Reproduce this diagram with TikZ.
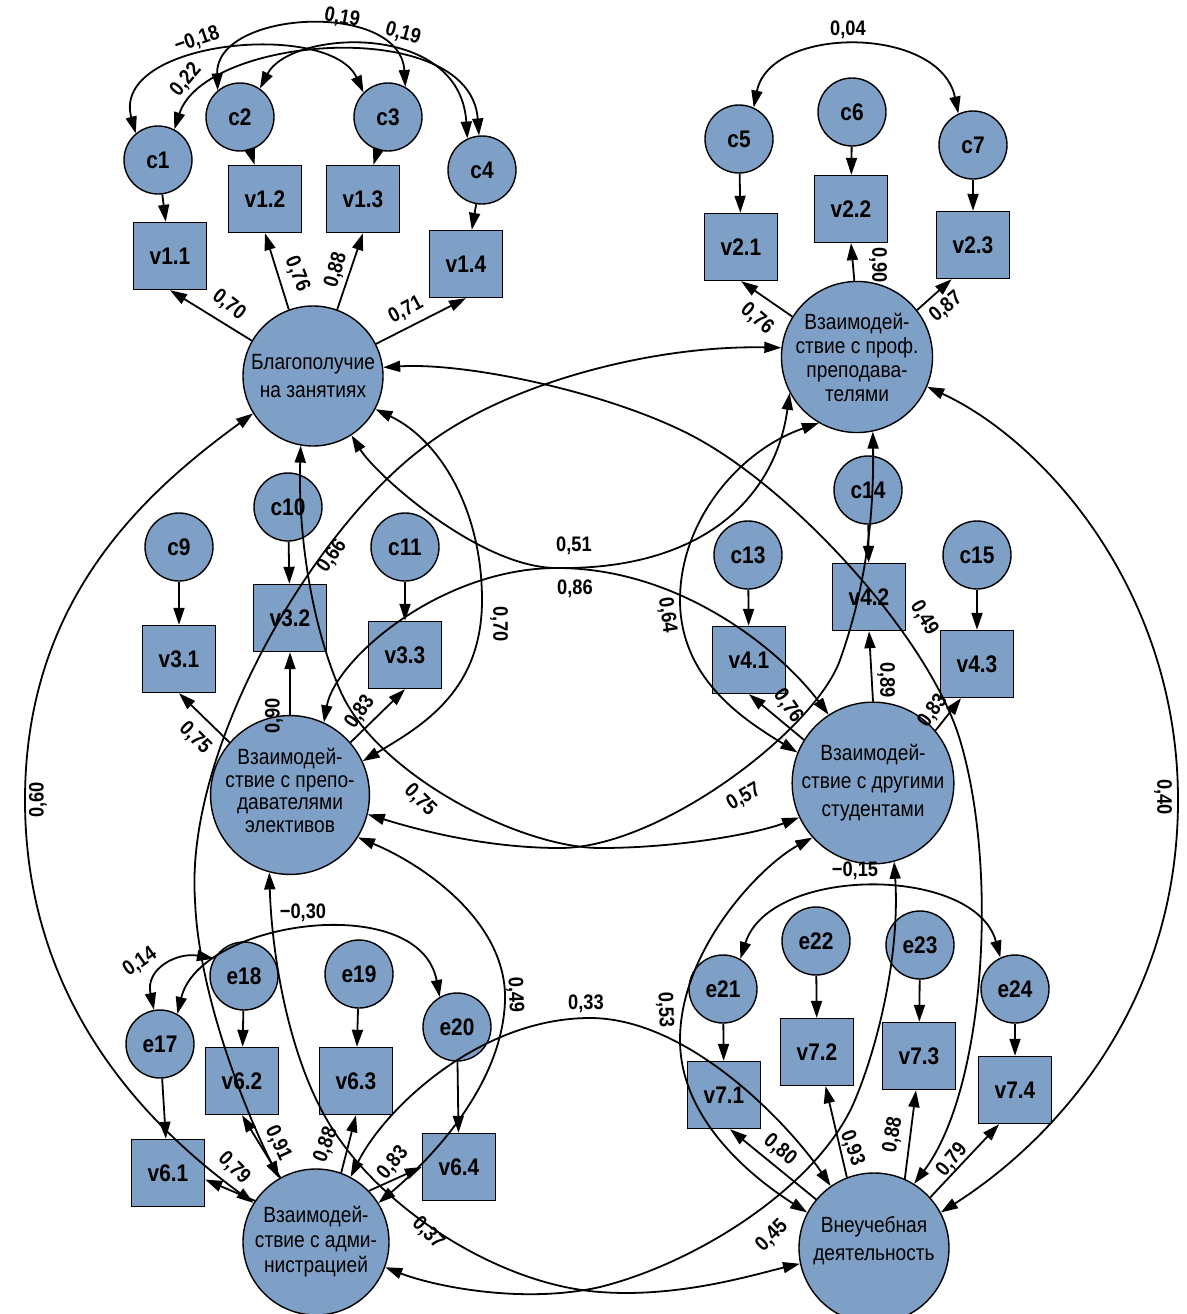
\documentclass[tikz,border=0pt]{standalone}
\usepackage{fontspec}
\setmainfont{Liberation Sans}
\newfontfamily\condsans[FakeStretch=0.87]{Liberation Sans}
\newcommand\latfont{\condsans\fontsize{22}{28}\selectfont}
\newcommand\obsfont{\condsans\bfseries\fontsize{24}{28}\selectfont}
\newcommand\valfont{\condsans\bfseries\fontsize{21}{25}\selectfont}
\usetikzlibrary{arrows.meta}
\definecolor{nodefill}{RGB}{127,160,198}
\begin{document}
\begin{tikzpicture}[x=1pt,y=-1pt,
  latent/.style={circle,draw=black,line width=1.4pt,fill=nodefill,inner sep=0pt,align=center,font=\latfont},
  errc/.style={circle,draw=black,line width=1.4pt,fill=nodefill,minimum size=68pt,inner sep=0pt,font=\obsfont},
  obs/.style={rectangle,draw=black,line width=1.4pt,fill=nodefill,minimum width=73pt,minimum height=67pt,inner sep=0pt,font=\obsfont},
  arr/.style={line width=1.8pt,-{Triangle[length=17pt,width=11pt]}},
  cov/.style={line width=1.8pt,{Triangle[length=17pt,width=11pt]}-{Triangle[length=17pt,width=11pt]}},
  val/.style={font=\valfont,inner sep=1pt}]
\useasboundingbox (0,0) rectangle (1186,1314);
\clip (0,0) rectangle (1186,1314);

% ---------- F1 group
\node[errc] (c1) at (158,160) {c1};
\node[errc] (c2) at (240,117) {c2};
\node[errc] (c3) at (388,117) {c3};
\node[errc] (c4) at (482,170) {c4};
\node[obs] (v11) at (170,256) {v1.1};
\node[obs] (v12) at (265,199) {v1.2};
\node[obs] (v13) at (363,199) {v1.3};
\node[obs] (v14) at (466,264) {v1.4};
\node[latent,minimum size=140pt] (F1) at (313,376) {Благополучие\\на занятиях};

% ---------- F2 group
\node[errc] (c5) at (739,139) {c5};
\node[errc] (c6) at (852,112) {c6};
\node[errc] (c7) at (973,145) {c7};
\node[obs] (v21) at (741,247) {v2.1};
\node[obs] (v22) at (851,209) {v2.2};
\node[obs] (v23) at (973,245) {v2.3};
\node[latent,minimum size=144pt,font={\condsans\fontsize{22}{24}\selectfont}] (F2) at (857,357) {Взаимодей-\\ствие с проф.\\преподава-\\телями};

% ---------- F3 group
\node[errc] (c9) at (179,547) {c9};
\node[errc] (c10) at (288,507) {c10};
\node[errc] (c11) at (405,547) {c11};
\node[obs] (v31) at (179,659) {v3.1};
\node[obs] (v32) at (290,618) {v3.2};
\node[obs] (v33) at (405,655) {v3.3};
\node[latent,minimum size=142pt,font={\condsans\fontsize{22}{22.5}\selectfont},text depth=9pt] (F3) at (290,795) {Взаимодей-\\ствие с препо-\\давателями\\элективов};

% ---------- F4 group
\node[errc] (c13) at (748,555) {c13};
\node[errc] (c14) at (868,490) {c14};
\node[errc] (c15) at (977,555) {c15};
\node[obs] (v41) at (749,660) {v4.1};
\node[obs] (v42) at (869,597) {v4.2};
\node[obs] (v43) at (977,664) {v4.3};
\node[latent,minimum size=144pt] (F4) at (873,783) {Взаимодей-\\ствие с другими\\студентами};

% ---------- F6 group
\node[errc] (e17) at (160,1044) {e17};
\node[errc] (e18) at (244,976) {e18};
\node[errc] (e19) at (359,974) {e19};
\node[errc] (e20) at (457,1027) {e20};
\node[obs] (v61) at (168,1173) {v6.1};
\node[obs] (v62) at (242,1081) {v6.2};
\node[obs] (v63) at (356,1081) {v6.3};
\node[obs] (v64) at (459,1167) {v6.4};
\node[latent,minimum size=146pt,font={\condsans\fontsize{22}{25}\selectfont}] (F6) at (316,1242) {Взаимодей-\\ствие с адми-\\нистрацией};

% ---------- F7 group
\node[errc] (e21) at (723,989) {e21};
\node[errc] (e22) at (816,941) {e22};
\node[errc] (e23) at (920,945) {e23};
\node[errc] (e24) at (1015,989) {e24};
\node[obs] (v71) at (724,1095) {v7.1};
\node[obs] (v72) at (817,1052) {v7.2};
\node[obs] (v73) at (919,1056) {v7.3};
\node[obs] (v74) at (1015,1090) {v7.4};
\node[latent,minimum size=150pt,text depth=19pt] (F7) at (874,1248) {Внеучебная\\деятельность};

% ---------- error -> indicator
\foreach \e/\v in {c1/v11,c2/v12,c3/v13,c4/v14,c5/v21,c6/v22,c7/v23,c9/v31,c10/v32,c11/v33,c13/v41,c14/v42,c15/v43,e17/v61,e18/v62,e19/v63,e20/v64,e21/v71,e22/v72,e23/v73,e24/v74}
  \draw[arr] (\e) -- (\v);

% ---------- loadings
\draw[arr] (F1.150) -- (v11.south);
\draw[arr] (F1.110) -- (v12.south);
\draw[arr] (F1.70) -- (v13.south);
\draw[arr] (F1.27) -- (v14.south);
\draw[arr] (F2.148) -- (v21.south);
\draw[arr] (F2.92) -- (v22.south);
\draw[arr] (F2.38) -- (v23.-122);
\draw[arr] (F3.139) -- (v31.south);
\draw[arr] (F3.90) -- (v32.south);
\draw[arr] (F3.41) -- (v33.south);
\draw[arr] (F4.148) -- (v41.south);
\draw[arr] (F4.90) -- (v42.south);
\draw[arr] (F4.40) -- (v43.-115);
\draw[arr] (F6.146) -- (v61.-10);
\draw[arr] (F6.119) -- (v62.south);
\draw[arr] (F6.70) -- (v63.south);
\draw[arr] (F6.44) -- (v64.west);
\draw[arr] (F7.140) -- (v71.-80);
\draw[arr] (F7.111) -- (v72.-76);
\draw[arr] (F7.66) -- (v73.-95);
\draw[arr] (F7.42) -- (v74.-115);

% ---------- error covariances
\draw[cov] (c1.130) .. controls (110,40) and (330,20) .. (c3.135);
\draw[cov] (c1.62) .. controls (205,35) and (470,15) .. (c4.95);
\draw[cov] (c2.130) .. controls (215,10) and (400,0) .. (c3.60);
\draw[cov] (c2.55) .. controls (290,30) and (460,20) .. (c4.115);
\draw[cov] (c5.65) .. controls (770,25) and (940,25) .. (c7.115);
\draw[cov] (e17.100) .. controls (145,968) and (178,952) .. (e18.150);
\draw[cov] (e17.60) .. controls (200,920) and (420,890) .. (e20.120);
\draw[cov] (e21.60) .. controls (770,865) and (975,865) .. (e24.115);

% ---------- factor covariances
\draw[cov] (F1.212) .. controls (144,493) and (25,600) .. (25,800) .. controls (25,1000) and (144,1123) .. (F6.148);
\draw[cov] (F2.-23) .. controls (1043,440) and (1178,590) .. (1178,800) .. controls (1178,1010) and (1050,1143) .. (F7.28);
\draw[cov] (F1.7) .. controls (470,362) and (620,395) .. (700,440) .. controls (800,496) and (930,640) .. (960,740) .. controls (999,870) and (985,1090) .. (F7.58);
\draw[cov] (F1.-28) .. controls (440,440) and (482,510) .. (482,600) .. controls (482,690) and (424,725) .. (F3.25);
\draw[cov] (F1.-57) .. controls (376,475) and (480,568) .. (557,568) .. controls (700,570) and (775,500) .. (F2.208);
\draw[cov] (F3.65) .. controls (335,660) and (440,568) .. (557,568) .. controls (680,568) and (780,650) .. (F4.123);
\draw[cov] (F2.240) .. controls (740,450) and (680,520) .. (680,600) .. controls (680,680) and (746,721) .. (F4.158);
\draw[cov] (F2.-78) .. controls (874,520) and (865,590) .. (840,660) .. controls (815,730) and (660,848) .. (560,848) .. controls (480,848) and (409,827) .. (F3.-14);
\draw[cov] (F1.-100) .. controls (298,530) and (310,620) .. (340,690) .. controls (376,774) and (520,848) .. (600,848) .. controls (680,848) and (758,833) .. (F4.205);
\draw[cov] (F2.173) .. controls (650,345) and (500,385) .. (420,450) .. controls (310,535) and (185,750) .. (195,900) .. controls (198.5,998) and (249,1119) .. (F6.120);
\draw[cov] (F3.-32) .. controls (420,863) and (507,920) .. (505,1000) .. controls (503,1080) and (438,1153) .. (F6.32);
\draw[cov] (F3.-105) .. controls (272,960) and (290,1060) .. (330,1125) .. controls (382,1210) and (500,1285) .. (600,1292) .. controls (680,1298) and (756,1274) .. (F7.192);
\draw[cov] (F6.62) .. controls (385,1108) and (480,1018) .. (590,1018) .. controls (690,1018) and (791,1127) .. (F7.125);
\draw[cov] (F4.-75) .. controls (900,950) and (880,1040) .. (855,1100) .. controls (820,1184) and (700,1262) .. (600,1287) .. controls (520,1305) and (430,1285) .. (F6.-20);
\draw[cov] (F4.222) .. controls (760,866) and (680,950) .. (680,1040) .. controls (680,1120) and (753,1178) .. (F7.152);

% ---------- values
\node[val,rotate=19] (l01) at (197,40) {−0,18};
\node[val,rotate=50] (l02) at (186,80) {0,22};
\node[val,rotate=-10] (l03) at (342,18) {0,19};
\node[val,rotate=-15] (l04) at (403,34) {0,19};
\node[val,rotate=-38] (l05) at (229,305) {0,70};
\node[val,rotate=-68] (l06) at (297,274) {0,76};
\node[val,rotate=74] (l07) at (336,270) {0,88};
\node[val,rotate=28] (l08) at (406,310) {0,71};
\node[val] (l09) at (848,30) {0,04};
\node[val,rotate=-40] (l10) at (757,319) {0,76};
\node[val,rotate=-90] (l11) at (878,265) {0,90};
\node[val,rotate=40] (l12) at (946,307) {0,87};
\node[val,rotate=-45] (l13) at (195,738) {0,75};
\node[val,rotate=90] (l14) at (274,716) {0,90};
\node[val,rotate=55] (l15) at (360,712) {0,83};
\node[val,rotate=55] (l16) at (332,556) {0,66};
\node[val,rotate=-90] (l17) at (499,624) {0,70};
\node[val] (l18) at (574,546) {0,51};
\node[val] (l19) at (575,589) {0,86};
\node[val,rotate=-45] (l20) at (420,800) {0,75};
\node[val,rotate=30] (l21) at (744,797) {0,57};
\node[val,rotate=-82] (l22) at (667,615) {0,64};
\node[val,rotate=-60] (l23) at (924,618) {0,49};
\node[val,rotate=-55] (l24) at (788,706) {0,76};
\node[val,rotate=-90] (l25) at (886,680) {0,89};
\node[val,rotate=55] (l26) at (933,711) {0,83};
\node[val,rotate=-90] (l27) at (1163,797) {0,40};
\node[val,rotate=90] (l28) at (38,800) {0,60};
\node[val,rotate=35] (l29) at (140,962) {0,14};
\node[val] (l30) at (303,913) {−0,30};
\node[val,rotate=-88] (l31) at (515,995) {0,49};
\node[val] (l32) at (586,1004) {0,33};
\node[val,rotate=-45] (l33) at (234,1168) {0,79};
\node[val,rotate=-65] (l34) at (278,1143) {0,91};
\node[val,rotate=70] (l35) at (326,1145) {0,88};
\node[val,rotate=50] (l36) at (393,1163) {0,83};
\node[val,rotate=-45] (l37) at (428,1233) {0,37};
\node[val,rotate=-88] (l38) at (665,1010) {0,53};
\node[val] (l39) at (855,871) {−0,15};
\node[val,rotate=-40] (l40) at (780,1150) {0,80};
\node[val,rotate=-70] (l41) at (852,1148) {0,93};
\node[val,rotate=80] (l42) at (893,1135) {0,88};
\node[val,rotate=50] (l43) at (952,1160) {0,79};
\node[val,rotate=45] (l44) at (772,1236) {0,45};
\end{tikzpicture}
\end{document}
